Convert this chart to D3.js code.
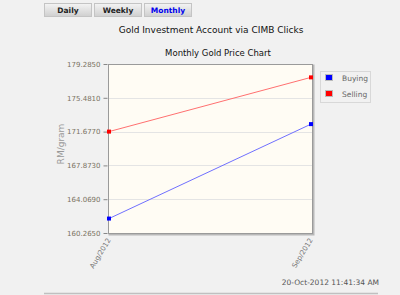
<!DOCTYPE html>
<html>
<head>
<meta charset="utf-8">
<script src="https://cdn.jsdelivr.net/npm/d3@7"></script>
<style>
  html, body { margin: 0; padding: 0; background: #f1f1f1; }
  svg { display: block; font-family: Tahoma, "DejaVu Sans", "Liberation Sans", sans-serif; }
</style>
</head>
<body>
<div id="chart"></div>
<script>
// chart data
var months = ["Aug/2012", "Sep/2012"];
var buying = [161.89, 172.52];
var selling = [171.677, 177.78];
var yTicks = [160.2650, 164.0690, 167.8730, 171.6770, 175.4810, 179.2850];
var tabs = ["Daily", "Weekly", "Monthly"];
var seriesNames = ["Buying", "Selling"];
var seriesColors = ["#0000ff", "#ff0000"];

var width = 400, height = 295;
var plot = { left: 108, top: 64, right: 312, bottom: 233 };

var svg = d3.select("#chart").append("svg")
    .attr("width", width)
    .attr("height", height);

var defs = svg.append("defs");
var grad = defs.append("linearGradient")
    .attr("id", "btn").attr("x1", 0).attr("y1", 0).attr("x2", 0).attr("y2", 1);
grad.append("stop").attr("offset", "0%").attr("stop-color", "#f4f4f4");
grad.append("stop").attr("offset", "100%").attr("stop-color", "#cfcfcf");

// tab buttons
var tab = svg.selectAll(".tab")
    .data(tabs)
  .enter().append("g")
    .attr("class", "tab")
    .attr("transform", function(d, i) { return "translate(" + (44 + i * 50) + ",3)"; });

tab.append("rect")
    .attr("x", 0.5).attr("y", 0.5)
    .attr("width", 47).attr("height", 13)
    .attr("fill", "url(#btn)")
    .attr("stroke", "#c4c4c4");

tab.append("text")
    .attr("x", 24).attr("y", 10)
    .attr("text-anchor", "middle")
    .style("font-size", "7.5px")
    .style("font-weight", "bold")
    .attr("fill", function(d) { return d == "Monthly" ? "#0000ee" : "#222"; })
    .text(function(d) { return d; });

// titles
svg.append("text")
    .attr("x", 211).attr("y", 33)
    .attr("text-anchor", "middle")
    .style("font-size", "9px")
    .attr("fill", "#111")
    .text("Gold Investment Account via CIMB Clicks");

svg.append("text")
    .attr("x", 218).attr("y", 56)
    .attr("text-anchor", "middle")
    .style("font-size", "8.5px")
    .attr("fill", "#111")
    .text("Monthly Gold Price Chart");

var x = d3.scalePoint()
    .domain(months)
    .range([plot.left + 1, plot.right - 1]);

var y = d3.scaleLinear()
    .domain([yTicks[0], yTicks[yTicks.length - 1]])
    .range([plot.bottom, plot.top]);

// plot frame with shadow
svg.append("rect")
    .attr("x", plot.left + 1.5).attr("y", plot.top + 1.5)
    .attr("width", plot.right - plot.left).attr("height", plot.bottom - plot.top)
    .attr("fill", "none")
    .attr("stroke", "#b8b8b8")
    .attr("stroke-width", 2);

svg.append("rect")
    .attr("x", plot.left + 0.5).attr("y", plot.top + 0.5)
    .attr("width", plot.right - plot.left).attr("height", plot.bottom - plot.top)
    .attr("fill", "#fffcf4")
    .attr("stroke", "#9a9a9a");

// grid
svg.append("g")
    .selectAll("line")
    .data(yTicks.slice(1, -1))
  .enter().append("line")
    .attr("x1", plot.left + 1).attr("x2", plot.right)
    .attr("y1", function(d) { return Math.round(y(d)) + 0.5; })
    .attr("y2", function(d) { return Math.round(y(d)) + 0.5; })
    .attr("stroke", "#e4e4e4");

// y axis
var yAxis = d3.axisLeft(y)
    .tickValues(yTicks)
    .tickSize(4)
    .tickPadding(3)
    .tickFormat(d3.format(".4f"));

var gY = svg.append("g")
    .attr("transform", "translate(" + (plot.left - 0.5) + ",0)")
    .call(yAxis);
gY.select(".domain").remove();
gY.selectAll("line").attr("stroke", "#888");
gY.selectAll("text")
    .style("font-size", "7px")
    .style("font-family", "Tahoma, 'DejaVu Sans', sans-serif")
    .attr("fill", "#7a7262");

svg.append("text")
    .attr("transform", "translate(64,144) rotate(-90)")
    .attr("text-anchor", "middle")
    .style("font-size", "9px")
    .attr("fill", "#999")
    .text("RM/gram");

// x labels
svg.append("g")
    .selectAll("text")
    .data(months)
  .enter().append("text")
    .attr("transform", function(d) { return "translate(" + (x(d) + 2) + "," + (plot.bottom + 7) + ") rotate(-59)"; })
    .attr("text-anchor", "end")
    .style("font-size", "7px")
    .attr("fill", "#777")
    .text(function(d) { return d; });

// lines
var line = d3.line()
    .x(function(d, i) { return x(months[i]); })
    .y(function(d) { return y(d); });

[buying, selling].forEach(function(vals, k) {
  svg.append("path")
      .datum(vals)
      .attr("d", line)
      .attr("fill", "none")
      .attr("stroke", k == 0 ? "#7070ff" : "#ff7070")
      .attr("stroke-width", 1);
  svg.selectAll(".pt" + k)
      .data(vals)
    .enter().append("rect")
      .attr("class", "pt" + k)
      .attr("x", function(d, i) { return x(months[i]) - 2; })
      .attr("y", function(d) { return y(d) - 2; })
      .attr("width", 4).attr("height", 4)
      .attr("fill", seriesColors[k]);
});

// legend
var lg = svg.append("g").attr("transform", "translate(320,71)");
lg.append("rect")
    .attr("x", 0.5).attr("y", 0.5)
    .attr("width", 50).attr("height", 31)
    .attr("fill", "#f1f1f1")
    .attr("stroke", "#d8d8d8");

var item = lg.selectAll(".legend")
    .data(seriesNames)
  .enter().append("g")
    .attr("class", "legend")
    .attr("transform", function(d, i) { return "translate(0," + i * 16 + ")"; });

item.append("rect")
    .attr("x", 5.5).attr("y", 3.5)
    .attr("width", 7).attr("height", 6)
    .attr("fill", function(d, i) { return seriesColors[i]; })
    .attr("stroke", "#bbb");

item.append("text")
    .attr("x", 22).attr("y", 9.5)
    .style("font-size", "7.5px")
    .attr("fill", "#666")
    .text(function(d) { return d; });

// footer
svg.append("text")
    .attr("x", 379).attr("y", 285)
    .attr("text-anchor", "end")
    .style("font-size", "7.5px")
    .attr("fill", "#555")
    .text("20-Oct-2012 11:41:34 AM");

svg.append("line")
    .attr("x1", 44).attr("x2", 378)
    .attr("y1", 293.5).attr("y2", 293.5)
    .attr("stroke", "#c0c0c0")
    .attr("stroke-width", 1.5);
</script>
</body>
</html>
